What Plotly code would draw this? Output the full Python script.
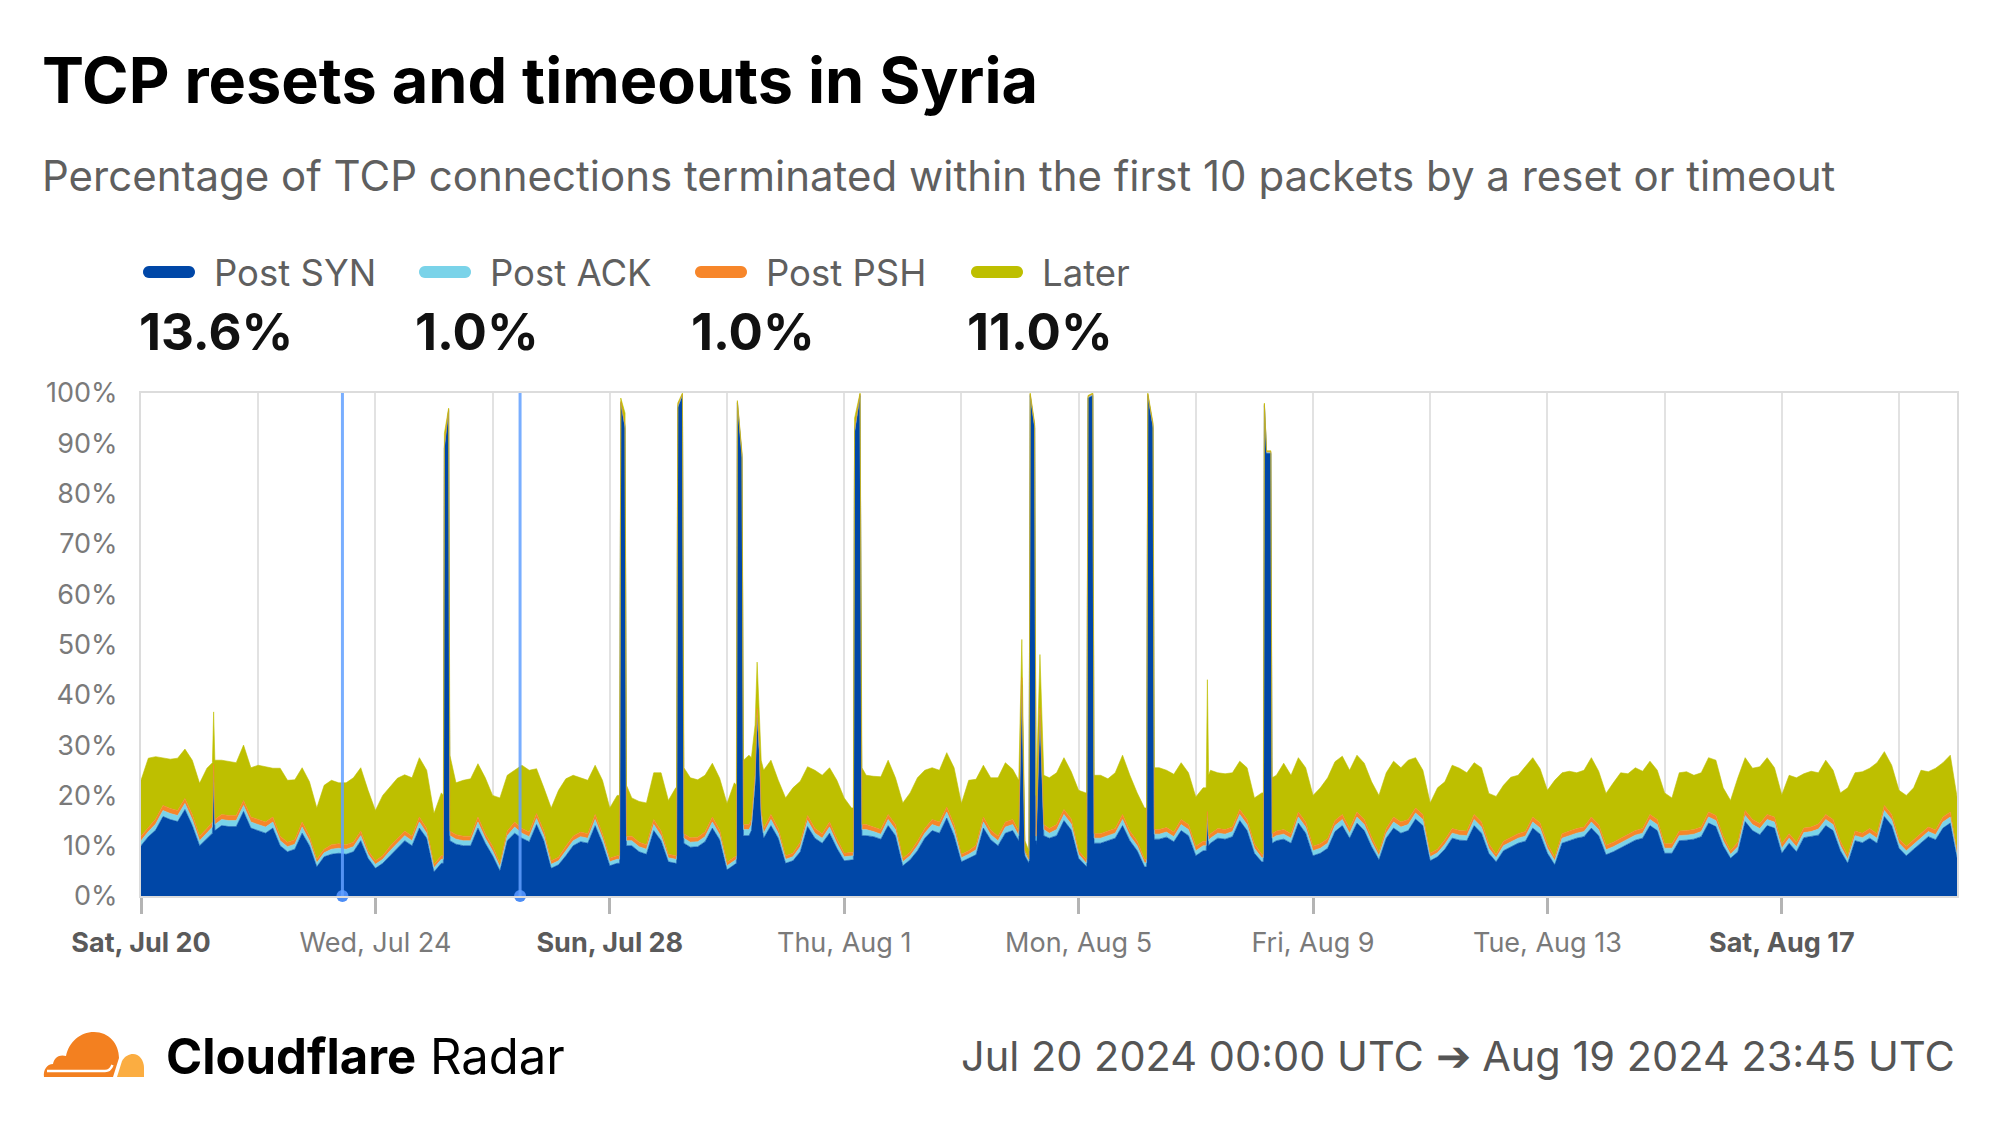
import base64
import math
import pandas as pd
import plotly.graph_objects as go

# ---------------- data (percent of TCP connections) ----------------
# base samples every 3 hours, Jul 20 00:00 UTC -> Aug 20 00:00 UTC
base_start = "2024-07-20 00:00"
base_step = "3h"

syn = [
    10.0, 11.8, 13.1, 15.8, 15.2, 14.8, 17.2, 14.0,   # Jul 20
    10.0, 11.5, 13.0, 14.0, 13.8, 13.8, 16.8, 13.5,   # Jul 21
    13.0, 12.5, 13.5, 10.0, 8.8, 9.3, 12.5, 10.0,     # Jul 22
    5.8, 7.8, 8.3, 8.5, 8.3, 8.8, 11.0, 7.5,          # Jul 23
    5.5, 6.5, 8.0, 9.5, 11.0, 10.0, 13.5, 11.5,       # Jul 24
    4.8, 6.5, 95.0, 10.3, 10.0, 10.0, 13.5, 10.5,     # Jul 25
    8.0, 5.0, 11.0, 12.5, 11.5, 10.8, 14.2, 11.0,     # Jul 26
    5.5, 6.2, 8.0, 10.0, 10.8, 10.5, 14.0, 10.5,      # Jul 27
    6.0, 6.5, 95.0, 10.0, 8.8, 8.3, 13.0, 11.0,       # Jul 28
    6.8, 6.5, 99.0, 9.7, 9.8, 10.8, 13.5, 11.2,       # Jul 29
    5.2, 6.2, 90.0, 12.0, 35.0, 11.5, 14.0, 11.5,     # Jul 30
    6.5, 7.0, 8.8, 13.8, 11.5, 10.5, 12.5, 9.5,       # Jul 31
    7.0, 7.2, 99.0, 12.0, 11.8, 11.3, 14.0, 12.0,     # Aug 1
    6.0, 7.2, 9.0, 11.5, 13.0, 12.5, 15.5, 12.0,      # Aug 2
    6.8, 7.5, 8.2, 13.5, 11.2, 10.0, 12.5, 13.0,      # Aug 3
    40.0, 7.0, 95.0, 12.0, 11.5, 12.0, 15.0, 13.1,    # Aug 4
    7.5, 5.8, 99.0, 10.5, 11.0, 11.5, 14.0, 11.0,     # Aug 5
    9.0, 5.8, 97.0, 11.3, 11.7, 10.8, 13.0, 12.0,     # Aug 6
    8.0, 9.0, 10.5, 11.5, 11.3, 11.8, 15.0, 13.0,     # Aug 7
    8.5, 6.8, 88.0, 11.0, 11.3, 10.5, 14.5, 12.5,     # Aug 8
    8.0, 8.5, 9.5, 12.8, 14.0, 11.5, 14.5, 13.0,      # Aug 9
    9.8, 7.2, 11.5, 13.5, 12.5, 13.0, 15.3, 14.0,     # Aug 10
    7.0, 7.8, 9.3, 11.5, 11.1, 11.0, 14.0, 12.5,      # Aug 11
    8.5, 6.8, 9.0, 9.8, 10.5, 10.9, 13.5, 12.3,       # Aug 12
    8.5, 6.2, 10.5, 11.0, 11.5, 11.8, 13.5, 12.0,     # Aug 13
    8.2, 8.8, 9.6, 10.3, 11.1, 11.5, 14.0, 13.0,      # Aug 14
    8.5, 8.5, 11.0, 11.1, 11.3, 11.8, 14.5, 13.8,     # Aug 15
    10.0, 7.5, 8.8, 14.8, 13.0, 12.2, 14.0, 13.5,     # Aug 16
    8.5, 10.5, 8.8, 11.6, 11.8, 12.1, 14.0, 13.0,     # Aug 17
    9.0, 6.5, 11.0, 10.6, 11.5, 10.5, 15.8, 14.0,     # Aug 18
    9.5, 8.0, 9.3, 10.5, 11.8, 11.2, 13.5, 14.5,      # Aug 19
    7.0,                                              # Aug 20 00:00
]

ack = [
    1.0, 1.0, 1.2, 1.2, 1.2, 1.2, 1.2, 1.2,
    1.0, 1.0, 1.2, 1.2, 1.2, 1.2, 1.2, 1.2,
    1.2, 1.2, 1.2, 1.0, 1.0, 1.0, 1.2, 1.0,
    0.8, 0.8, 1.0, 1.0, 1.0, 1.0, 1.0, 0.8,
    0.8, 0.8, 1.0, 1.0, 1.0, 1.0, 1.2, 1.0,
    0.8, 0.8, 0.3, 1.0, 1.0, 1.0, 1.2, 1.0,
    1.0, 0.8, 1.0, 1.2, 1.0, 1.0, 1.2, 1.0,
    0.8, 0.8, 1.0, 1.0, 1.0, 1.0, 1.2, 1.0,
    0.8, 0.8, 0.3, 1.0, 1.0, 1.0, 1.2, 1.0,
    0.8, 0.8, 0.3, 1.0, 1.0, 1.0, 1.2, 1.0,
    0.8, 0.8, 0.3, 1.2, 1.2, 1.0, 1.2, 1.0,
    0.8, 0.8, 1.0, 1.2, 1.0, 1.0, 1.2, 1.0,
    0.8, 0.8, 0.3, 1.2, 1.0, 1.0, 1.2, 1.2,
    0.8, 0.8, 1.0, 1.0, 1.2, 1.2, 1.2, 1.2,
    0.8, 0.8, 1.0, 1.2, 1.0, 1.0, 1.2, 1.2,
    0.5, 0.5, 0.3, 1.2, 1.0, 1.2, 1.2, 1.2,
    0.8, 0.8, 0.3, 1.0, 1.0, 1.0, 1.2, 1.0,
    1.0, 0.8, 0.3, 1.0, 1.0, 1.0, 1.2, 1.2,
    1.0, 1.0, 1.0, 1.0, 1.0, 1.0, 1.2, 1.2,
    1.0, 0.8, 0.2, 1.0, 1.0, 1.0, 1.2, 1.2,
    1.0, 1.0, 1.0, 1.2, 1.2, 1.0, 1.2, 1.2,
    1.0, 0.8, 1.0, 1.2, 1.2, 1.2, 1.2, 1.2,
    0.8, 0.8, 1.0, 1.0, 1.0, 1.0, 1.2, 1.2,
    1.0, 0.8, 1.0, 1.0, 1.0, 1.0, 1.2, 1.2,
    1.0, 0.8, 1.0, 1.0, 1.0, 1.0, 1.2, 1.2,
    1.0, 1.0, 1.0, 1.0, 1.0, 1.0, 1.2, 1.2,
    1.0, 1.0, 1.0, 1.0, 1.0, 1.0, 1.2, 1.2,
    1.0, 0.8, 1.0, 1.2, 1.2, 1.2, 1.2, 1.2,
    1.0, 1.0, 1.0, 1.0, 1.0, 1.2, 1.2, 1.2,
    1.0, 0.8, 1.0, 1.0, 1.0, 1.0, 1.2, 1.2,
    1.0, 1.0, 1.0, 1.0, 1.0, 1.0, 1.2, 1.2,
    0.8,
]

psh = [
    0.9, 0.9, 1.0, 1.0, 1.0, 1.0, 1.0, 1.0,
    0.9, 0.9, 1.0, 1.0, 1.0, 1.0, 1.0, 1.0,
    1.0, 1.0, 1.0, 0.9, 0.9, 0.9, 1.0, 0.9,
    0.7, 0.7, 0.9, 0.9, 0.9, 0.9, 0.9, 0.7,
    0.7, 0.7, 0.9, 0.9, 0.9, 0.9, 1.0, 0.9,
    0.7, 0.7, 0.2, 0.9, 0.9, 0.9, 1.0, 0.9,
    0.9, 0.7, 0.9, 1.0, 0.9, 0.9, 1.0, 0.9,
    0.7, 0.7, 0.9, 0.9, 0.9, 0.9, 1.0, 0.9,
    0.7, 0.7, 0.2, 0.9, 0.9, 0.9, 1.0, 0.9,
    0.7, 0.7, 0.2, 0.9, 0.9, 0.9, 1.0, 0.9,
    0.7, 0.7, 0.2, 1.0, 1.0, 0.9, 1.0, 0.9,
    0.7, 0.7, 0.9, 1.0, 0.9, 0.9, 1.0, 0.9,
    0.7, 0.7, 0.2, 1.0, 0.9, 0.9, 1.0, 1.0,
    0.7, 0.7, 0.9, 0.9, 1.0, 1.0, 1.0, 1.0,
    0.7, 0.7, 0.9, 1.0, 0.9, 0.9, 1.0, 1.0,
    0.4, 0.4, 0.2, 1.0, 0.9, 1.0, 1.0, 1.0,
    0.7, 0.7, 0.2, 0.9, 0.9, 0.9, 1.0, 0.9,
    0.9, 0.7, 0.2, 0.9, 0.9, 0.9, 1.0, 1.0,
    0.9, 0.9, 0.9, 0.9, 0.9, 0.9, 1.0, 1.0,
    0.9, 0.7, 0.1, 0.9, 0.9, 0.9, 1.0, 1.0,
    0.9, 0.9, 0.9, 1.0, 1.0, 0.9, 1.0, 1.0,
    0.9, 0.7, 0.9, 1.0, 1.0, 1.0, 1.0, 1.0,
    0.7, 0.7, 0.9, 0.9, 0.9, 0.9, 1.0, 1.0,
    0.9, 0.7, 0.9, 0.9, 0.9, 0.9, 1.0, 1.0,
    0.9, 0.7, 0.9, 0.9, 0.9, 0.9, 1.0, 1.0,
    0.9, 0.9, 0.9, 0.9, 0.9, 0.9, 1.0, 1.0,
    0.9, 0.9, 0.9, 0.9, 0.9, 0.9, 1.0, 1.0,
    0.9, 0.7, 0.9, 1.0, 1.0, 1.0, 1.0, 1.0,
    0.9, 0.9, 0.9, 0.9, 0.9, 1.0, 1.0, 1.0,
    0.9, 0.7, 0.9, 0.9, 0.9, 0.9, 1.0, 1.0,
    0.9, 0.9, 0.9, 0.9, 0.9, 0.9, 1.0, 1.0,
    0.7,
]

later = [
    11.1, 13.7, 12.4, 9.5, 9.8, 10.4, 9.8, 10.8,      # Jul 20
    10.5, 12.0, 11.8, 10.8, 10.7, 10.5, 11.0, 9.8,    # Jul 21
    10.8, 11.0, 9.7, 13.5, 12.3, 11.9, 10.8, 10.8,    # Jul 22
    10.2, 12.7, 12.8, 12.1, 12.3, 12.8, 12.6, 12.0,   # Jul 23
    10.0, 12.0, 11.8, 12.0, 11.2, 11.6, 11.8, 11.6,   # Jul 24
    10.1, 12.5, 0.5, 10.3, 11.1, 11.4, 10.6, 11.1,    # Jul 25
    10.1, 13.0, 11.1, 10.3, 12.6, 12.3, 8.9, 8.6,     # Jul 26
    10.5, 13.3, 13.4, 12.1, 10.8, 10.6, 9.8, 10.6,    # Jul 27
    10.0, 12.0, 1.5, 7.6, 8.1, 8.3, 9.3, 11.6,        # Jul 28
    10.7, 13.5, 0.5, 11.9, 11.4, 11.3, 10.7, 10.3,    # Jul 29
    11.7, 14.8, 1.5, 13.8, 8.8, 11.6, 10.8, 9.6,      # Jul 30
    11.5, 13.0, 12.1, 9.7, 11.6, 11.6, 10.8, 11.6,    # Jul 31
    11.0, 8.8, 0.5, 9.8, 10.1, 10.5, 10.8, 9.3,       # Aug 1
    11.0, 11.8, 12.6, 11.6, 10.3, 10.3, 10.8, 11.3,   # Aug 2
    10.1, 14.0, 13.1, 10.3, 10.4, 11.6, 11.8, 10.0,   # Aug 3
    8.1, 1.1, 0.5, 9.8, 10.1, 10.3, 10.3, 9.4,        # Aug 4
    12.0, 13.2, 0.5, 11.6, 10.4, 11.1, 11.8, 11.1,    # Aug 5
    9.6, 10.2, 0.5, 12.3, 11.4, 11.5, 11.3, 10.3,     # Aug 6
    9.8, 10.6, 12.6, 11.1, 11.1, 10.8, 9.6, 10.3,     # Aug 7
    9.1, 12.2, 0.2, 11.1, 13.2, 11.6, 10.8, 10.8,     # Aug 8
    10.1, 11.1, 12.1, 11.7, 11.6, 11.6, 11.3, 11.2,   # Aug 9
    11.0, 11.3, 11.1, 11.1, 10.8, 11.8, 10.0, 8.8,    # Aug 10
    10.0, 12.2, 11.5, 12.6, 12.4, 11.6, 10.3, 10.8,   # Aug 11
    10.0, 11.5, 11.1, 11.9, 11.6, 12.9, 11.8, 10.8,   # Aug 12
    10.6, 15.3, 12.1, 11.9, 11.1, 11.3, 11.8, 10.6,   # Aug 13
    10.3, 11.8, 13.0, 12.1, 12.5, 11.4, 10.6, 9.8,    # Aug 14
    10.1, 9.1, 11.6, 11.7, 10.8, 10.8, 10.8, 11.0,    # Aug 15
    9.6, 10.0, 12.8, 10.5, 10.2, 11.3, 11.3, 9.8,     # Aug 16
    9.7, 11.6, 12.8, 10.8, 11.1, 10.2, 10.8, 9.8,     # Aug 17
    9.6, 13.5, 11.6, 12.2, 12.0, 14.1, 10.7, 9.8,     # Aug 18
    9.6, 10.1, 10.3, 12.6, 11.0, 12.3, 10.8, 11.3,    # Aug 19
    10.5,                                             # Aug 20 00:00
]

# short events (spikes) sampled more finely; each group replaces the base samples inside its span
ev_time = [
    "2024-07-21 05:15", "2024-07-21 05:45", "2024-07-21 06:15",
    "2024-07-25 03:50", "2024-07-25 04:15", "2024-07-25 06:00", "2024-07-25 06:30",
    "2024-07-28 04:00", "2024-07-28 04:30", "2024-07-28 06:15", "2024-07-28 06:50",
    "2024-07-29 03:20", "2024-07-29 03:50", "2024-07-29 05:45", "2024-07-29 06:20",
    "2024-07-30 03:50", "2024-07-30 04:15", "2024-07-30 06:10", "2024-07-30 06:45",
    "2024-07-30 10:00", "2024-07-30 11:30", "2024-07-30 12:20", "2024-07-30 13:15", "2024-07-30 14:00",
    "2024-08-01 03:45", "2024-08-01 04:15", "2024-08-01 06:30", "2024-08-01 07:15",
    "2024-08-03 23:30", "2024-08-04 00:45", "2024-08-04 02:00", "2024-08-04 03:40", "2024-08-04 04:10",
    "2024-08-04 06:00", "2024-08-04 06:35", "2024-08-04 08:10", "2024-08-04 09:45",
    "2024-08-05 03:20", "2024-08-05 03:50", "2024-08-05 05:50", "2024-08-05 06:20",
    "2024-08-06 03:50", "2024-08-06 04:20", "2024-08-06 06:30", "2024-08-06 07:00",
    "2024-08-07 04:15", "2024-08-07 04:45", "2024-08-07 05:15",
    "2024-08-08 03:40", "2024-08-08 04:05", "2024-08-08 05:00", "2024-08-08 06:45", "2024-08-08 07:15",
]
ev_group = [1, 1, 1, 2, 2, 2, 2, 3, 3, 3, 3, 4, 4, 4, 4, 5, 5, 5, 5, 6, 6, 6, 6, 6,
            7, 7, 7, 7, 8, 8, 8, 8, 8, 8, 8, 8, 8, 9, 9, 9, 9, 10, 10, 10, 10,
            11, 11, 11, 12, 12, 12, 12, 12]
ev_syn = [12.5, 24.4, 13.0,
          6.5, 89.0, 96.5, 11.0,
          6.5, 98.0, 93.0, 10.0,
          6.5, 97.0, 99.5, 10.5,
          6.5, 98.0, 87.0, 12.0,
          13.0, 22.0, 35.5, 28.0, 15.0,
          7.2, 92.0, 99.5, 12.0,
          11.0, 42.0, 8.0, 6.5, 99.5, 93.0, 10.0, 36.0, 12.0,
          5.8, 99.0, 99.5, 10.5,
          5.8, 99.5, 93.0, 11.3,
          9.0, 15.0, 10.0,
          6.8, 97.5, 88.0, 88.0, 10.5]
ev_ack = [1.2, 1.0, 1.2,
          0.8, 0.3, 0.2, 1.0,
          0.8, 0.2, 0.3, 1.0,
          0.8, 0.3, 0.2, 1.0,
          0.8, 0.2, 0.3, 1.2,
          1.2, 1.2, 1.0, 1.0, 1.2,
          0.8, 0.4, 0.2, 1.2,
          1.0, 0.8, 0.6, 0.5, 0.2, 0.3, 1.0, 0.8, 1.2,
          0.8, 0.2, 0.2, 1.0,
          0.8, 0.2, 0.3, 1.0,
          1.0, 1.0, 1.0,
          0.8, 0.2, 0.2, 0.2, 1.0]
ev_psh = [1.0, 0.8, 1.0,
          0.7, 0.2, 0.1, 0.9,
          0.7, 0.1, 0.2, 0.9,
          0.7, 0.2, 0.1, 0.9,
          0.7, 0.1, 0.2, 1.0,
          1.0, 1.0, 0.8, 0.8, 1.0,
          0.7, 0.3, 0.1, 1.0,
          0.9, 0.6, 0.5, 0.4, 0.1, 0.2, 0.9, 0.6, 1.0,
          0.7, 0.1, 0.1, 0.9,
          0.7, 0.1, 0.2, 0.9,
          0.9, 0.8, 0.9,
          0.7, 0.1, 0.1, 0.1, 0.9]
ev_later = [11.8, 10.4, 11.8,
            12.0, 2.5, 0.2, 15.1,
            12.0, 0.7, 2.5, 10.1,
            13.5, 0.5, 0.2, 13.1,
            14.0, 0.2, 0.5, 12.8,
            12.3, 9.8, 9.2, 6.2, 9.8,
            8.8, 2.3, 0.2, 11.3,
            10.1, 7.6, 1.9, 1.6, 0.2, 0.5, 8.1, 10.6, 9.8,
            13.2, 0.2, 0.2, 11.6,
            10.2, 0.2, 0.5, 12.3,
            10.6, 26.2, 12.1,
            12.2, 0.2, 0.2, 0.2, 11.1]

series_names = ["Post SYN", "Post ACK", "Post PSH", "Later"]
series_colors = ["#0047A7", "#7AD3E9", "#F7862A", "#BEBF00"]
summary_values = ["13.6%", "1.0%", "1.0%", "11.0%"]

annotation_times = ["2024-07-23 10:30", "2024-07-26 11:15"]

tick_dates = ["2024-07-20", "2024-07-24", "2024-07-28", "2024-08-01",
              "2024-08-05", "2024-08-09", "2024-08-13", "2024-08-17"]
tick_labels = ["Sat, Jul 20", "Wed, Jul 24", "Sun, Jul 28", "Thu, Aug 1",
               "Mon, Aug 5", "Fri, Aug 9", "Tue, Aug 13", "Sat, Aug 17"]
weekend_ticks = ["Sat, Jul 20", "Sun, Jul 28", "Sat, Aug 17"]
y_ticks = list(range(0, 101, 10))
y_tick_labels = [f"{v}%" for v in y_ticks]

x_start, x_end = "2024-07-20 00:00", "2024-08-19 23:45"

# ---------------- assemble series ----------------
base = pd.DataFrame({
    "t": pd.date_range(base_start, periods=len(syn), freq=base_step),
    "syn": syn, "ack": ack, "psh": psh, "later": later,
})
ev = pd.DataFrame({
    "t": pd.to_datetime(ev_time), "g": ev_group,
    "syn": ev_syn, "ack": ev_ack, "psh": ev_psh, "later": ev_later,
})
keep = pd.Series(True, index=base.index)
for g, sub in ev.groupby("g"):
    t0, t1 = sub["t"].min(), sub["t"].max()
    keep &= ~((base["t"] >= t0) & (base["t"] <= t1))
df = pd.concat([base[keep], ev.drop(columns="g")]).sort_values("t").reset_index(drop=True)

# ---------------- geometry (page pixels; page body has an 8px margin) ----------------
W, H = 1999, 1125
BODY = 8
PL, PR, PT, PB = 141, 1957, 393, 896   # plot area on the page


def xp(px):
    return (px - PL) / (PR - PL)


def yp(py):
    return (PB - py) / (PB - PT)


FONT = "Inter, 'Noto Sans', sans-serif"

fig = go.Figure()
for col, name, color in zip(["syn", "ack", "psh", "later"], series_names, series_colors):
    fig.add_trace(go.Scatter(
        x=df["t"], y=df[col], name=name, mode="lines", stackgroup="one",
        line=dict(width=0.6, color=color), fillcolor=color,
        showlegend=False, hoverinfo="skip",
    ))

# annotation markers (vertical lines + dots)
shapes = []
for t in annotation_times:
    shapes.append(dict(type="line", xref="x", yref="paper", x0=t, x1=t, y0=0, y1=1,
                       line=dict(color="rgba(98,160,255,0.85)", width=3), layer="above"))
fig.add_trace(go.Scatter(
    x=annotation_times, y=[0] * len(annotation_times), mode="markers",
    marker=dict(size=12, color="#4C8DF6"), cliponaxis=False,
    showlegend=False, hoverinfo="skip",
))

# ---------------- custom legend ----------------
col_step = 276
annotations = []
for i, (name, color, val) in enumerate(zip(series_names, series_colors, summary_values)):
    x0 = 143 + col_step * i
    x1 = 195 + col_step * i
    yc = 272
    r = 6
    pts = []
    for k in range(0, 13):
        a = math.pi / 2 + math.pi * k / 12
        pts.append((x0 + r + r * math.cos(a), yc - r * math.sin(a)))
    for k in range(0, 13):
        a = -math.pi / 2 + math.pi * k / 12
        pts.append((x1 - r + r * math.cos(a), yc - r * math.sin(a)))
    path = "M " + " L ".join(f"{xp(a):.5f},{yp(b):.5f}" for a, b in pts) + " Z"
    shapes.append(dict(type="path", xref="paper", yref="paper", path=path,
                       fillcolor=color, line=dict(width=0)))
    annotations.append(dict(
        text=name, x=xp(212 + col_step * i), y=yp(273), xref="paper", yref="paper",
        xanchor="left", yanchor="middle", showarrow=False,
        font=dict(family=FONT, size=36.5, color="#5f5f5f")))
    annotations.append(dict(
        text=f"<b>{val}</b>", x=xp(137 + col_step * i), y=yp(331), xref="paper", yref="paper",
        xanchor="left", yanchor="middle", showarrow=False,
        font=dict(family=FONT, size=51, color="#111111")))

# title + subtitle
annotations.append(dict(
    text="<b>TCP resets and timeouts in Syria</b>", x=xp(40), y=yp(80),
    xref="paper", yref="paper", xanchor="left", yanchor="middle", showarrow=False,
    font=dict(family=FONT, size=63, color="#000000")))
annotations.append(dict(
    text="Percentage of TCP connections terminated within the first 10 packets by a reset or timeout",
    x=xp(40), y=yp(176), xref="paper", yref="paper", xanchor="left", yanchor="middle",
    showarrow=False, font=dict(family=FONT, size=42, color="#5f5f5f")))

# footer
annotations.append(dict(
    text="<b>Cloudflare</b> Radar", x=xp(164), y=yp(1056), xref="paper", yref="paper",
    xanchor="left", yanchor="middle", showarrow=False,
    font=dict(family=FONT, size=49, color="#000000")))
annotations.append(dict(
    text="Jul 20 2024 00:00 UTC \u2794 Aug 19 2024 23:45 UTC", x=xp(1957), y=yp(1056),
    xref="paper", yref="paper", xanchor="right", yanchor="middle", showarrow=False,
    font=dict(family=FONT, size=41.5, color="#555555")))

cloud_svg = (
    "<svg xmlns='http://www.w3.org/2000/svg' viewBox='0 0 102 47'>"
    "<path d='M2 47 C1 40 5 34 11 34 C12 27 18 24 24 26 C27 12 38 2 52 2 "
    "C67 2 77 14 77 28 L71 47 Z' fill='#F38020'/>"
    "<path d='M75 47 L80 31 C83 26 87 24 91 24 C97 24 102 30 102 38 L102 47 Z' fill='#FBAD41'/>"
    "<path d='M5 41 L63 41 C67 41 69 39 70.5 35' stroke='white' stroke-width='2.4' fill='none'/>"
    "</svg>"
)
cloud_uri = "data:image/svg+xml;base64," + base64.b64encode(cloud_svg.encode()).decode()

ticktext = [
    f"<span style='color:#5a5a5a'><b>{t}</b></span>" if t in weekend_ticks else t
    for t in tick_labels
]

fig.update_layout(
    width=W - BODY, height=H - BODY, autosize=False,
    margin=dict(l=PL - BODY, r=W - PR, t=PT - BODY, b=H - PB, pad=0),
    paper_bgcolor="white", plot_bgcolor="white",
    font=dict(family=FONT),
    annotations=annotations,
    shapes=shapes,
    images=[dict(source=cloud_uri, xref="paper", yref="paper",
                 x=xp(42), y=yp(1030), sizex=xp(144) - xp(42), sizey=yp(1030) - yp(1077),
                 xanchor="left", yanchor="top", sizing="stretch", layer="above")],
    xaxis=dict(
        type="date", range=[x_start, x_end],
        tickvals=tick_dates, ticktext=ticktext,
        tickfont=dict(family=FONT, size=27, color="#7a7a7a"),
        ticks="outside", ticklen=16, tickwidth=3, tickcolor="#b4b4b4",
        ticklabelstandoff=6,
        showgrid=True, gridcolor="#e2e2e2", gridwidth=2,
        minor=dict(dtick=2 * 86400000, tick0="2024-07-20", showgrid=True,
                   gridcolor="#e2e2e2", gridwidth=2, ticks=""),
        showline=True, linecolor="#dcdcdc", linewidth=2, mirror=True,
        zeroline=False, fixedrange=True,
    ),
    yaxis=dict(
        range=[0, 100], tickvals=y_ticks, ticktext=y_tick_labels,
        tickfont=dict(family=FONT, size=27, color="#7a7a7a"),
        ticks="", ticklabelstandoff=16,
        showgrid=False, showline=True, linecolor="#dcdcdc", linewidth=2, mirror=True,
        zeroline=False, fixedrange=True,
    ),
)

fig.write_html("out.html")
